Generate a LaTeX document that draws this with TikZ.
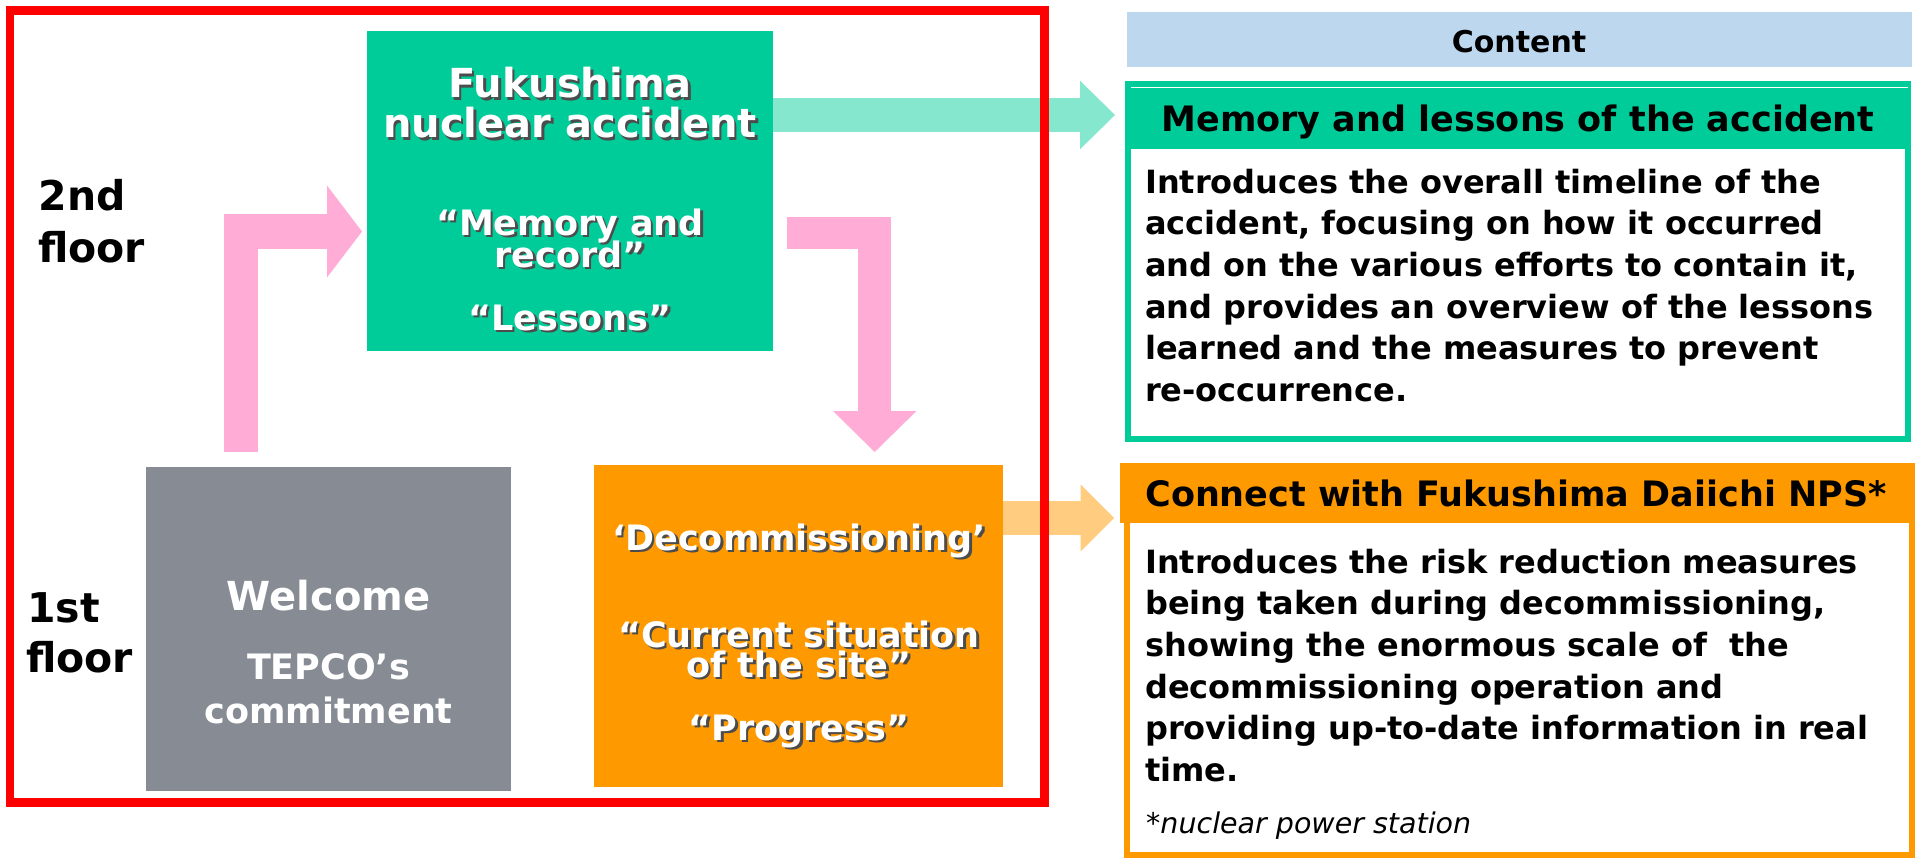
\documentclass[tikz,border=0pt]{standalone}
\usepackage{fontspec}
\setmainfont{DejaVu Sans}
\usetikzlibrary{arrows.meta}

\definecolor{accgreen}{RGB}{0,204,153}
\definecolor{welgray}{RGB}{134,139,148}
\definecolor{decorange}{RGB}{255,153,0}
\definecolor{flowpink}{RGB}{255,172,214}
\definecolor{headblue}{RGB}{189,215,238}
\definecolor{framered}{RGB}{255,0,0}

% white text with a dark drop shadow
\newcommand{\shadowed}[1]{\leavevmode\rlap{\hspace{2.5pt}\raisebox{-2.5pt}{\textcolor{black!70}{#1}}}#1}

\tikzset{
  room/.style={inner sep=0pt, outer sep=0pt},
  roomtext/.style={text=white, anchor=base, inner sep=0pt,
    font=\bfseries\fontsize{#1}{#1}\selectfont},
  floortext/.style={anchor=base west, inner sep=0pt,
    font=\bfseries\fontsize{41}{41}\selectfont},
  bodytext/.style={anchor=base west, inner sep=0pt, align=left,
    font=\bfseries\fontsize{32}{41.6}\selectfont},
  flow/.style n args={3}{line width=#1,
    -{Triangle[length=#2, width=#3, line width=0pt]}},
}

\begin{document}
\begin{tikzpicture}[x=1pt, y=-1pt]
  \fill[white] (0,0) rectangle (1915,860);
  \useasboundingbox (0,0) rectangle (1915,860);

  % rooms of the exhibition
  \node[room, fill=accgreen, minimum width=406pt, minimum height=320pt] (accident) at (570,191) {};
  \node[room, fill=welgray, minimum width=365pt, minimum height=324pt] (welcome) at (328.5,629) {};
  \node[room, fill=decorange, minimum width=409pt, minimum height=322pt] (decom) at (798.7,626) {};

  % content panels
  \node[room, fill=headblue, minimum width=785pt, minimum height=55pt,
    text height=25.4pt, text depth=0pt,
    font=\bfseries\fontsize{30}{30}\selectfont] (content) at (1519,39.5) {Content};
  \draw[accgreen, line width=6pt] (1128,84) rectangle (1908,439);
  \node[room, fill=accgreen, minimum width=786pt, minimum height=68pt,
    text height=33pt, text depth=0pt,
    font=\bfseries\fontsize{35}{35}\selectfont] (memory) at (1518,115) {Memory and lessons of the accident};
  \draw[white, line width=1pt] (1131,87.5) -- (1908,87.5);
  \draw[decorange, line width=6pt] (1127,466) rectangle (1912,855);
  \node[room, fill=decorange, minimum width=792pt, minimum height=60pt,
    text height=27pt, text depth=0pt,
    font=\bfseries\fontsize{35}{35}\selectfont] (connect) at (1516,493) {Connect with Fukushima Daiichi NPS*};

  % flow arrows
  \draw[flowpink, flow={34.5pt}{35pt}{92pt}]
    ([xshift=-87.5pt, yshift=15pt]welcome.north) |- ([xshift=-5pt, yshift=-40.5pt]accident.west);
  \draw[flowpink, flow={32.7pt}{41pt}{83.4pt}]
    ([xshift=14pt, yshift=-42pt]accident.east) -| ([xshift=76pt, yshift=13pt]decom.north);
  \draw[accgreen!48, flow={34.6pt}{35pt}{68.6pt}]
    (accident.east |- memory.west) -- ([xshift=-10pt]memory.west);
  \coordinate (decomout) at ([yshift=108pt]decom.east);
  \path ([xshift=-6pt]connect.west) coordinate (connectin);
  \draw[decorange!50, flow={33.3pt}{33.3pt}{66.7pt}] (decomout) -- (decomout -| connectin);

  % frame of the building
  \draw[framered, line width=8.5pt] (10,10.5) rectangle (1044.5,802.5);

  % floors
  \node[floortext] (second1) at (38.5,210) {2nd};
  \node[floortext] (second2) at (38,262) {floor};
  \node[floortext] (first1) at (27,622) {1st};
  \node[floortext] (first2) at (26,672) {floor};

  % room texts
  \node[roomtext=40] (acc1) at (570,97.6) {\shadowed{Fukushima}};
  \node[roomtext=40] (acc2) at (570,137.5) {\shadowed{nuclear accident}};
  \node[roomtext=35] (acc3) at (570,235) {\shadowed{“Memory and}};
  \node[roomtext=35] (acc4) at (570,267) {\shadowed{record”}};
  \node[roomtext=35] (acc5) at (570,330) {\shadowed{“Lessons”}};

  \node[roomtext=40] (wel1) at (328.5,610) {Welcome};
  \node[roomtext=35] (wel2) at (328.5,679) {TEPCO’s};
  \node[roomtext=35] (wel3) at (328.5,723) {commitment};

  \node[roomtext=35] (dec1) at (799,550) {\shadowed{‘Decommissioning’}};
  \node[roomtext=35] (dec2) at (799,647) {\shadowed{“Current situation}};
  \node[roomtext=35] (dec3) at (799,677) {\shadowed{of the site”}};
  \node[roomtext=35] (dec4) at (799,740) {\shadowed{“Progress”}};

  % panel texts (base = last line)
  \node[bodytext] (memorytext) at (1145,401.3) {Introduces the overall timeline of the\\
    accident, focusing on how it occurred\\
    and on the various efforts to contain it,\\
    and provides an overview of the lessons\\
    learned and the measures to prevent\\
    re-occurrence.};
  \node[bodytext] (connecttext) at (1145,781.3) {Introduces the risk reduction measures\\
    being taken during decommissioning,\\
    showing the enormous scale of~ the\\
    decommissioning operation and\\
    providing up-to-date information in real\\
    time.};
  \node[anchor=base west, inner sep=0pt, font=\itshape\fontsize{28.5}{28.5}\selectfont] (note) at (1146,833) {*nuclear power station};
\end{tikzpicture}
\end{document}
